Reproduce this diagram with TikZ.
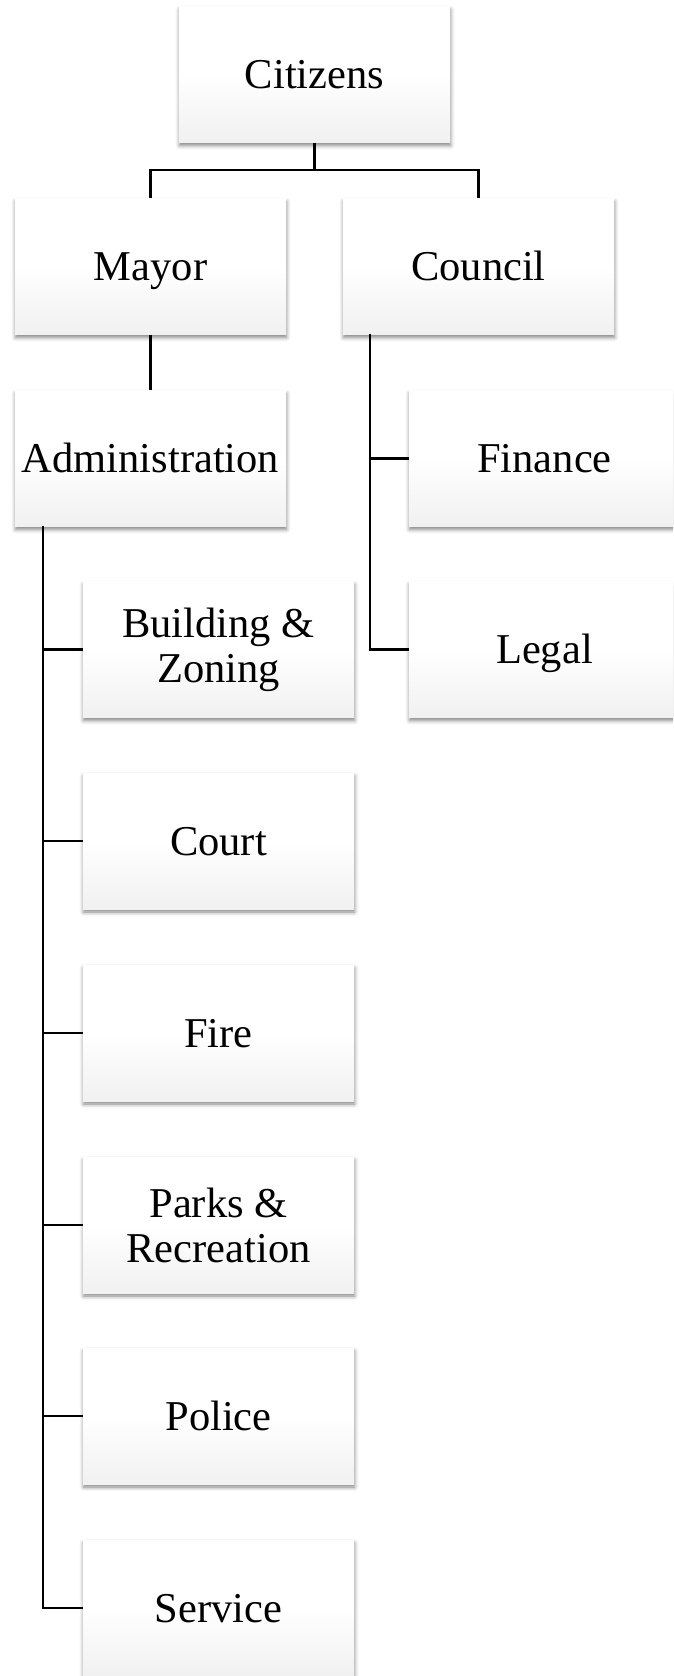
\documentclass[tikz,border=0pt]{standalone}
\usepackage{fontspec}
\setmainfont{Liberation Serif}
\usetikzlibrary{shadows,shadows.blur}
\pgfdeclareverticalshading{boxshade}{100bp}{color(0bp)=(black!11); color(10bp)=(black!9); color(50bp)=(white); color(100bp)=(white)}
\begin{document}
\begin{tikzpicture}[x=1pt,y=-1pt,
  orgbox/.style={minimum width=271pt,minimum height=136pt,inner sep=0pt,
    align=center,font=\fontsize{42.5}{45}\selectfont,
    shading=boxshade,
    blur shadow={shadow xshift=0.5pt,shadow yshift=-3pt,shadow blur radius=4pt,shadow opacity=50}},
  onebox/.style={orgbox,text height=29pt,text depth=1pt},
  link/.style={draw=black,line width=2.4pt}]
\useasboundingbox (0,0) rectangle (673,1676);
\clip (0,0) rectangle (673,1676);
\node[onebox] (cit) at (314.5,74.5) {Citizens};
\node[onebox] (mayor) at (150.5,266.5) {Mayor};
\node[onebox] (council) at (478.5,266.5) {Council};
\node[onebox] (admin) at (150.5,458.5) {Administration};
\node[onebox] (finance) at (544.5,458.5) {Finance};
\node[onebox] (legal) at (544.5,649.5) {Legal};
\node[orgbox] (bz) at (218.5,649.5) {Building \&\\Zoning};
\node[onebox] (court) at (218.5,841) {Court};
\node[onebox] (fire) at (218.5,1033) {Fire};
\node[orgbox] (parks) at (218.5,1225) {Parks \&\\Recreation};
\node[onebox] (police) at (218.5,1416) {Police};
\node[onebox] (service) at (218.5,1608) {Service};
\coordinate (bus) at (314.5,170);
\coordinate (aspine) at (43,526);
\coordinate (cspine) at (370,334);
\draw[link] (cit.south) -- (bus);
\draw[link] (bus) -| (mayor.north);
\draw[link] (bus) -| (council.north);
\draw[link] (mayor.south) -- (admin.north);
\draw[link] (cspine) |- (finance.west);
\draw[link] (cspine) |- (legal.west);
\draw[link] (aspine) |- (bz.west);
\draw[link] (aspine) |- (court.west);
\draw[link] (aspine) |- (fire.west);
\draw[link] (aspine) |- (parks.west);
\draw[link] (aspine) |- (police.west);
\draw[link] (aspine) |- (service.west);
\end{tikzpicture}
\end{document}
